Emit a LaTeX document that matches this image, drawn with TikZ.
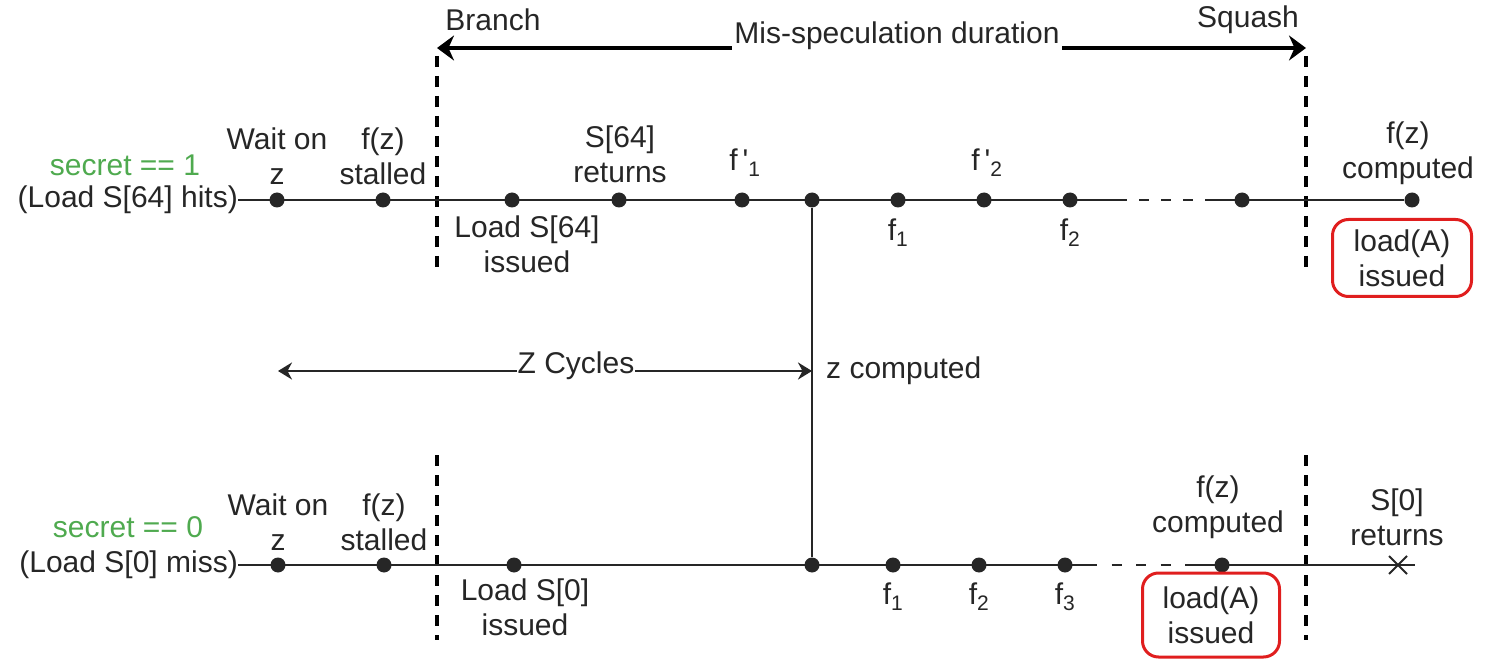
\documentclass[tikz,border=0pt]{standalone}
\usepackage{fontspec}
\setmainfont{Liberation Sans}
\usetikzlibrary{arrows.meta}
\definecolor{ink}{HTML}{262626}
\definecolor{sgreen}{HTML}{4FAA4F}
\definecolor{rbox}{HTML}{E01E1E}
\tikzset{
  lbl/.style={inner sep=0pt, align=center, font=\fontsize{30}{35}\selectfont, text=ink},
  glbl/.style={lbl, text=sgreen},
  dot/.style={circle, fill=ink, draw=none, inner sep=0pt, minimum size=15pt},
  tl/.style={draw=ink, line width=2.2pt},
  vdash/.style={draw=black, line width=3.5pt, dash pattern=on 11pt off 9pt},
  hdash/.style={draw=ink, line width=2.2pt, dash pattern=on 10pt off #1, dash phase=10pt},
  redbox/.style={lbl, draw=rbox, line width=3pt, rounded corners=16pt},
  bigarrow/.style={draw=black, line width=3.5pt, {Stealth[length=17pt,width=25pt]}-{Stealth[length=17pt,width=25pt]}},
  midarrow/.style={draw=ink, line width=2.4pt, {Stealth[length=14pt,width=17pt]}-{Stealth[length=14pt,width=17pt]}},
  xmark/.style={draw=ink, line width=2pt},
}
\begin{document}
\begin{tikzpicture}[x=1pt,y=-1pt]
\useasboundingbox (0,0) rectangle (1486,660);

% ---------- top: mis-speculation arrow ----------
\coordinate (br) at (437,48);
\coordinate (sq) at (1306,48);
\draw[bigarrow] (br) -- (sq);
\node[lbl, fill=white, inner xsep=2pt] (msd) at (897,36) {Mis-speculation duration};
\node[lbl] (branch) at (493,20) {Branch};
\node[lbl] (squash) at (1248,20) {Squash};

% dashed verticals
\coordinate (v1a) at (437,56);  \coordinate (v1b) at (437,275);
\coordinate (v2a) at (1306,56); \coordinate (v2b) at (1306,275);
\coordinate (v3a) at (437,455); \coordinate (v3b) at (437,640);
\coordinate (v4a) at (1306,455);\coordinate (v4b) at (1306,640);
\draw[vdash] (v1a) -- (v1b);
\draw[vdash] (v2a) -- (v2b);
\draw[vdash] (v3a) -- (v3b);
\draw[vdash] (v4a) -- (v4b);

% ---------- top timeline (secret == 1) ----------
\node[glbl] (sec1) at (125,165) {secret == 1};
\node[lbl, anchor=east] (hit) at (238,200) {(Load S[64] hits)};
\coordinate (td1) at (1127,200);
\coordinate (td2) at (1205,200);
\node[dot] (a1) at (277,200) {};
\node[dot] (a2) at (383,200) {};
\node[dot] (a3) at (512,200) {};
\node[dot] (a4) at (619,200) {};
\node[dot] (a5) at (742,200) {};
\node[dot] (jt) at (812,200) {};
\node[dot] (a7) at (898,200) {};
\node[dot] (a8) at (984,200) {};
\node[dot] (a9) at (1070,200) {};
\node[dot] (a10) at (1242,200) {};
\node[dot] (a11) at (1412,200) {};
\draw[tl] (hit.east) -- (td1);
\draw[hdash=12pt] (td1) -- (td2);
\draw[tl] (td2) -- (a11);

\node[lbl] (wz1) at (277,156) {Wait on\\z};
\node[lbl] (fs1) at (383,156) {f(z)\\stalled};
\node[lbl] (ls1) at (527,244) {Load S[64]\\issued};
\node[lbl] (sr1) at (620,154) {S[64]\\returns};
\node[lbl] (fp1) at (745,163) {f\,\textquotesingle\textsubscript{1}};
\node[lbl] (fp2) at (987,163) {f\,\textquotesingle\textsubscript{2}};
\node[lbl] (f1t) at (898,233) {f\textsubscript{1}};
\node[lbl] (f2t) at (1070,233) {f\textsubscript{2}};
\node[lbl] (fc1) at (1408,153) {f(z)\\computed};
\node[redbox, minimum width=139pt, minimum height=77pt] (rb1) at (1402,258) {load(A)\\issued};

% ---------- vertical & Z cycles ----------
\node[dot] (jb) at (812,565) {};
\draw[tl] (jt) -- (jb);
\coordinate (zl) at (278,371);
\coordinate (zr) at (812,371);
\draw[midarrow] (zl) -- (zr);
\node[lbl, fill=white, inner xsep=1pt] (zc) at (576,366) {Z Cycles};
\node[lbl, anchor=west] (zcomp) at (826,371) {z computed};

% ---------- bottom timeline (secret == 0) ----------
\node[glbl] (sec0) at (128,527) {secret == 0};
\node[lbl, anchor=east] (miss) at (238,565) {(Load S[0] miss)};
\coordinate (bd1) at (1097,565);
\coordinate (bd2) at (1185,565);
\coordinate (bend) at (1415,565);
\node[dot] (b1) at (278,565) {};
\node[dot] (b2) at (384,565) {};
\node[dot] (b3) at (514,565) {};
\node[dot] (b5) at (893,565) {};
\node[dot] (b6) at (979,565) {};
\node[dot] (b7) at (1065,565) {};
\node[dot] (b8) at (1222,565) {};
\draw[tl] (miss.east) -- (bd1);
\draw[hdash=14.5pt] (bd1) -- (bd2);
\draw[tl] (bd2) -- (bend);
\coordinate (xm) at (1398,565);
\draw[xmark] ([shift={(-9,-9)}]xm) -- ([shift={(9,9)}]xm);
\draw[xmark] ([shift={(-9,9)}]xm) -- ([shift={(9,-9)}]xm);

\node[lbl] (wz2) at (278,522) {Wait on\\z};
\node[lbl] (fs2) at (384,522) {f(z)\\stalled};
\node[lbl] (ls2) at (525,607) {Load S[0]\\issued};
\node[lbl] (f1b) at (893,597) {f\textsubscript{1}};
\node[lbl] (f2b) at (979,597) {f\textsubscript{2}};
\node[lbl] (f3b) at (1065,597) {f\textsubscript{3}};
\node[lbl] (fc2) at (1218,507) {f(z)\\computed};
\node[lbl] (s0) at (1397,517) {S[0]\\returns};
\node[redbox, minimum width=137pt, minimum height=84pt] (rb2) at (1211,615) {load(A)\\issued};
\end{tikzpicture}
\end{document}
